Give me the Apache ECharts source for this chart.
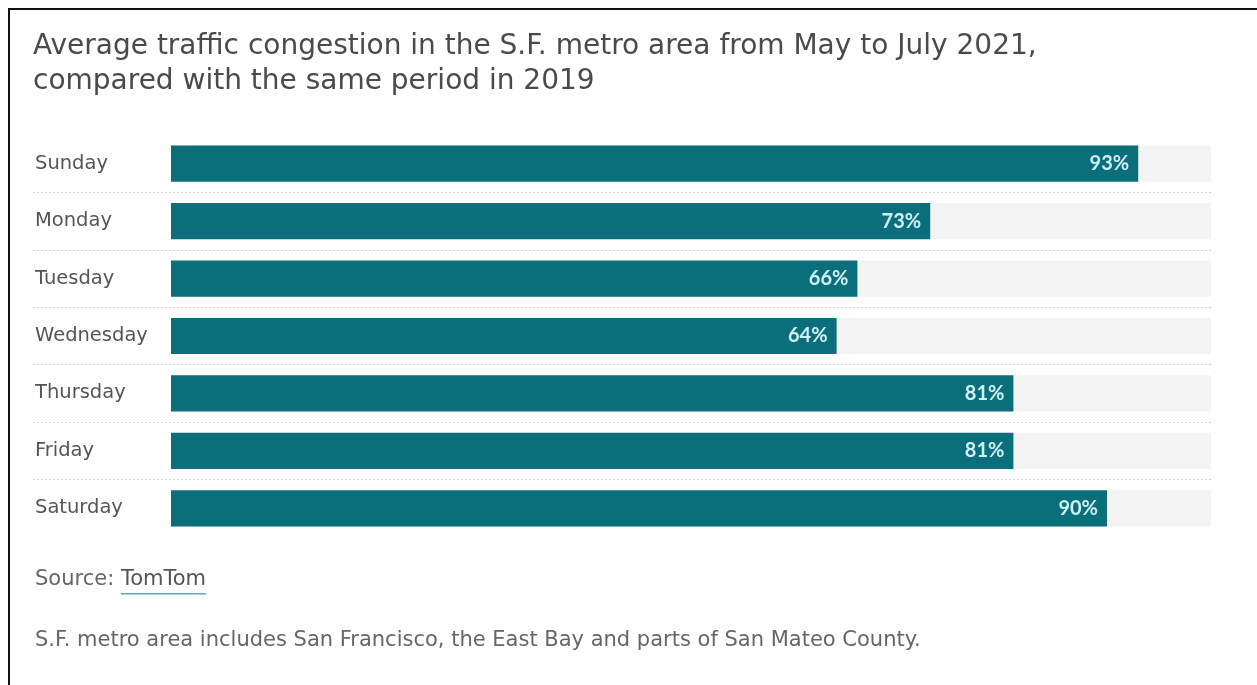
<!DOCTYPE html>
<html>
<head>
<meta charset="utf-8">
<script src="https://cdn.jsdelivr.net/npm/echarts@6/dist/echarts.min.js"></script>
<style>
  html, body { margin: 0; padding: 0; background: #fff; }
  #chart { width: 1257px; height: 685px; }
</style>
</head>
<body>
<div id="chart"></div>
<script>
// ---- data ----
const days = ['Sunday', 'Monday', 'Tuesday', 'Wednesday', 'Thursday', 'Friday', 'Saturday'];
const congestion = [93, 73, 66, 64, 81, 81, 90];
const valueMin = 0;
const valueMax = 100;
const titleLines = [
  'Average traffic congestion in the S.F. metro area from May to July 2021,',
  'compared with the same period in 2019'
];
const sourceLabel = 'Source: ';
const sourceName = 'TomTom';
const footnote = 'S.F. metro area includes San Francisco, the East Bay and parts of San Mateo County.';

// ---- layout ----
const W = 1257, H = 685;
const gridLeft = 171, gridRight = 46, gridTop = 135, gridHeight = 402;
const band = gridHeight / days.length;
const textLeft = 35;

const mctx = document.createElement('canvas').getContext('2d');
function measure(text, size, family, weight) {
  mctx.font = (weight || 'normal') + ' ' + size + 'px ' + family;
  return mctx.measureText(text).width;
}
function fit(text, family, target, weight) {
  return Math.round(100 * target / measure(text, 100, family, weight) * 10) / 10;
}

const titleFont = '"DejaVu Sans"';
const titleSize = Math.min(28, fit(titleLines[0], titleFont, 1030));
const labelFont = '"DejaVu Sans"';
const labelSize = Math.min(19.5, fit('Wednesday', labelFont, 117));
const noteFont = '"DejaVu Sans"';
const noteSize = Math.min(21, fit(footnote, noteFont, 937));
const srcW = measure(sourceLabel, noteSize, noteFont);
const nameW = measure(sourceName, noteSize, noteFont);

const chart = echarts.init(document.getElementById('chart'), null, { renderer: 'canvas' });

chart.setOption({
  backgroundColor: '#ffffff',
  animation: false,
  title: {
    text: titleLines.join('\n'),
    left: 28,
    top: 24,
    textStyle: {
      fontFamily: titleFont,
      fontSize: titleSize,
      fontWeight: 'normal',
      color: '#4a4a4a',
      lineHeight: 35
    }
  },
  grid: [
    { left: gridLeft, right: gridRight, top: gridTop, height: gridHeight },
    { left: 33, right: gridRight, top: gridTop + band, height: band * (days.length - 2) }
  ],
  xAxis: [
    { type: 'value', gridIndex: 0, min: valueMin, max: valueMax, show: false },
    { type: 'value', gridIndex: 1, min: 0, max: 1, show: false }
  ],
  yAxis: [
    {
      type: 'category', gridIndex: 0, data: days, inverse: true,
      axisLine: { show: false }, axisTick: { show: false }, splitLine: { show: false },
      axisLabel: {
        align: 'left', margin: gridLeft - textLeft,
        fontFamily: labelFont, fontSize: labelSize, color: '#555555'
      }
    },
    {
      type: 'category', gridIndex: 1, data: days.slice(1, -1), inverse: true,
      axisLine: { show: false }, axisTick: { show: false }, axisLabel: { show: false },
      splitLine: { show: true, lineStyle: { color: '#d4d4d4', type: [2, 2], width: 1 } }
    }
  ],
  series: [{
    type: 'bar',
    xAxisIndex: 0, yAxisIndex: 0,
    data: congestion,
    barWidth: '63%',
    showBackground: true,
    backgroundStyle: { color: '#f3f3f3' },
    itemStyle: { color: '#0b6e7b' },
    label: {
      show: true,
      position: 'insideRight',
      distance: 9,
      formatter: '{c}%',
      color: '#cdf1f4',
      fontFamily: 'Lato',
      fontWeight: 'bold',
      fontSize: 20
    }
  }],
  graphic: [
    { type: 'rect', shape: { x: 8, y: 8, width: W - 8, height: 2 }, style: { fill: '#111' } },
    { type: 'rect', shape: { x: 8, y: 8, width: 2, height: H - 8 }, style: { fill: '#111' } },
    {
      type: 'text', left: textLeft, top: 569,
      style: {
        text: '{a|' + sourceLabel + '}{b|' + sourceName + '}',
        rich: {
          a: { fontFamily: noteFont, fontSize: noteSize, fill: '#666666' },
          b: { fontFamily: noteFont, fontSize: noteSize, fill: '#555555' }
        }
      }
    },
    { type: 'rect', shape: { x: textLeft + srcW, y: 593, width: nameW, height: 1.5 }, style: { fill: '#4fb0bb' } },
    {
      type: 'text', left: textLeft, top: 630,
      style: { text: footnote, fontFamily: noteFont, fontSize: noteSize, fill: '#666666' }
    }
  ]
});
</script>
</body>
</html>
